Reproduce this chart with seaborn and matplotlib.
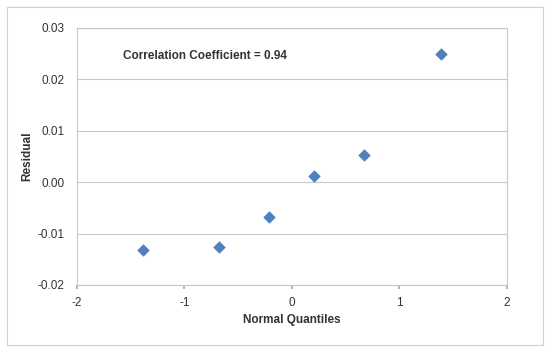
import numpy as np
import pandas as pd
import seaborn as sns
import matplotlib.pyplot as plt
from matplotlib.patches import Rectangle

# Valores
quantiles = [-1.383, -0.674, -0.210, 0.210, 0.674, 1.383]
residuals = [-0.0133, -0.0126, -0.0068, 0.0012, 0.0052, 0.0249]
corr_text = "Correlation Coefficient = 0.94"

df = pd.DataFrame({"Normal Quantiles": quantiles, "Residual": residuals})

sns.set_theme(style="whitegrid")
plt.rcParams["font.family"] = ["Liberation Sans", "DejaVu Sans"]
plt.rcParams["axes.unicode_minus"] = False

fig = plt.figure(figsize=(5.45, 3.5), dpi=100)
ax = fig.add_axes([0.141, 0.186, 0.789, 0.734])

sns.scatterplot(data=df, x="Normal Quantiles", y="Residual", ax=ax,
                marker="D", s=34, color="#4F81BD", edgecolor="#4F81BD", linewidth=0.5)

ax.set_xlim(-2, 2)
ax.set_ylim(-0.02, 0.03)
ax.set_xticks([-2, -1, 0, 1, 2])
ax.set_yticks([-0.02, -0.01, 0.0, 0.01, 0.02, 0.03])
ax.set_yticklabels([f"{v:.2f}" for v in [-0.02, -0.01, 0.0, 0.01, 0.02, 0.03]])
ax.xaxis.grid(False)
ax.yaxis.grid(True, color="#c8c8c8", linewidth=0.8)
for s in ax.spines.values():
    s.set_color("#c8c8c8")
    s.set_linewidth(0.8)
ax.tick_params(axis="both", labelsize=8.5, colors="#333333", length=3, pad=6)
ax.tick_params(axis="x", bottom=True, color="#aaaaaa")
ax.set_xlabel("Normal Quantiles", fontsize=8.5, fontweight="bold", color="#333333", labelpad=3)
ax.set_ylabel("Residual", fontsize=8.5, fontweight="bold", color="#333333", labelpad=3)

ax.text(-1.57, 0.0245, corr_text, fontsize=8.5, fontweight="bold", color="#333333", va="center")

fig.patches.append(Rectangle((0.012, 0.015), 0.985, 0.965, transform=fig.transFigure,
                             fill=False, edgecolor="#d0d0d0", linewidth=0.8))

fig.savefig("out.png", dpi=100)
